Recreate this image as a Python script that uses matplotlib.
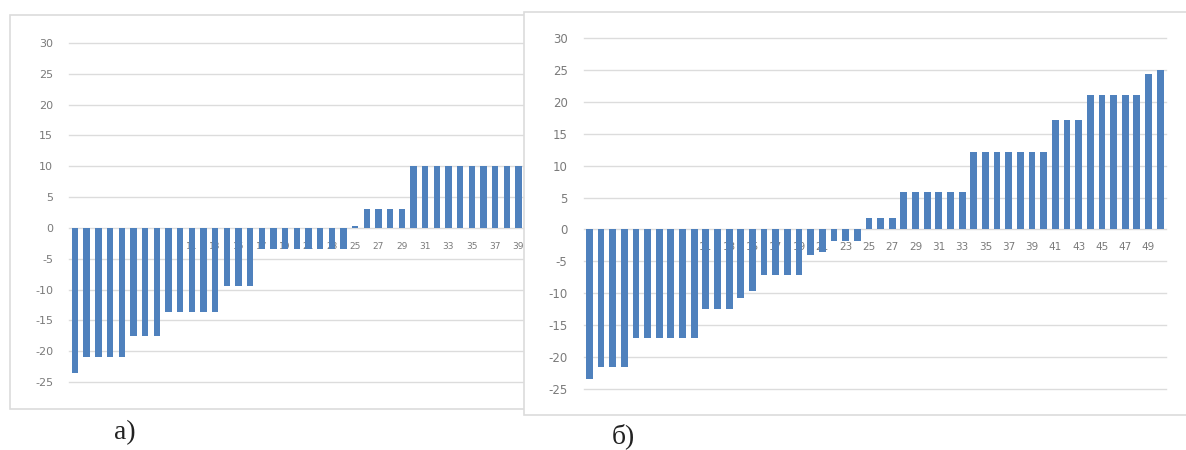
import matplotlib
matplotlib.use("Agg")
import matplotlib.pyplot as plt
from matplotlib.patches import Rectangle

# Figure size in pixels, all layout below is given in pixels from the top-left.
W, H = 1186, 450

# Panel а): only the first 40 bars are visible, the rest is hidden by panel б)
cats_a = list(range(1, 41))
vals_a = [-23.5, -21.0, -21.0, -21.0, -21.0, -17.5, -17.5, -17.5,
          -13.7, -13.7, -13.7, -13.7, -13.7, -9.5, -9.5, -9.5,
          -3.5, -3.5, -3.5, -3.5, -3.5, -3.5, -3.5, -3.5, 0.3,
          3.0, 3.0, 3.0, 3.0,
          10.0, 10.0, 10.0, 10.0, 10.0, 10.0, 10.0, 10.0, 10.0, 10.0,
          17.0]

# Panel б)
cats_b = list(range(1, 51))
vals_b = [-23.4, -21.5, -21.5, -21.5, -17.0, -17.0, -17.0, -17.0, -17.0, -17.0,
          -12.4, -12.4, -12.4, -10.7, -9.6, -7.1, -7.1, -7.1, -7.1, -4.0,
          -3.6, -1.8, -1.8, -1.8, 1.8, 1.8, 1.8, 5.9, 5.9, 5.9,
          5.9, 5.9, 5.9, 12.1, 12.1, 12.1, 12.1, 12.1, 12.1, 12.1,
          17.1, 17.1, 17.1, 21.0, 21.0, 21.0, 21.0, 21.0, 24.4, 25.0]

yticks = [30, 25, 20, 15, 10, 5, 0, -5, -10, -15, -20, -25]
n_slots = 50

BAR = "#4f81bd"
GRID = "#dcdcdc"
TXT = "#7a7a7a"

plt.rcParams["axes.unicode_minus"] = False
plt.rcParams["font.family"] = ["DejaVu Sans"]


def frac(x0, y0, x1, y1):
    return [x0 / W, 1 - y1 / H, (x1 - x0) / W, (y1 - y0) / H]


def frame(fig, x0, y0, x1, y1, z):
    l, b, w, h = frac(x0, y0, x1, y1)
    r = Rectangle((l, b), w, h, transform=fig.transFigure, facecolor="white",
                  edgecolor=GRID, linewidth=1.2, zorder=z)
    fig.add_artist(r)


def panel(ax, cats, vals, width, ysize, xsize, xpad):
    ax.bar(cats, vals, width=width, color=BAR, zorder=2)
    ax.set_xlim(0.5, n_slots + 0.5)
    ax.set_ylim(-25, 30)
    ax.set_yticks(yticks)
    ax.set_yticklabels([str(t) for t in yticks])
    ax.set_xticks(cats[::2])
    ax.set_xticklabels([str(c) for c in cats[::2]])
    ax.yaxis.grid(True, color=GRID, linewidth=1.0)
    for gl in ax.get_ygridlines():
        gl.set_clip_on(False)
    ax.set_axisbelow(True)
    for s in ax.spines.values():
        s.set_visible(False)
    ax.spines["bottom"].set_position(("data", 0))
    ax.tick_params(axis="y", length=0, pad=11.5, labelsize=ysize, labelcolor=TXT)
    ax.tick_params(axis="x", length=0, pad=xpad, labelsize=xsize, labelcolor=TXT)
    ax.patch.set_visible(False)


fig = plt.figure(figsize=(W / 100, H / 100), dpi=100)

# panel а) behind
frame(fig, 10, 15, 700, 409, 0)
step_a = 11.67
ax_a = fig.add_axes(frac(69.2, 43, 69.2 + n_slots * step_a, 382))
ax_a.set_zorder(1)
panel(ax_a, cats_a, vals_a, 0.55, 8, 6.5, 10)

# panel б) on top, covering the right part of а)
frame(fig, 524, 12, 1200, 415, 2)
ax_b = fig.add_axes(frac(583.5, 38, 1166, 389))
ax_b.set_zorder(3)
panel(ax_b, cats_b, vals_b, 0.58, 8.5, 7.5, 9)

fig.text(125 / W, 1 - 433 / H, "а)", ha="center", va="center",
         fontsize=20, family="Liberation Serif", color="#222222", zorder=5)
fig.text(623 / W, 1 - 436 / H, "б)", ha="center", va="center",
         fontsize=20, family="Liberation Serif", color="#222222", zorder=5)

fig.savefig("out.png", dpi=100)
